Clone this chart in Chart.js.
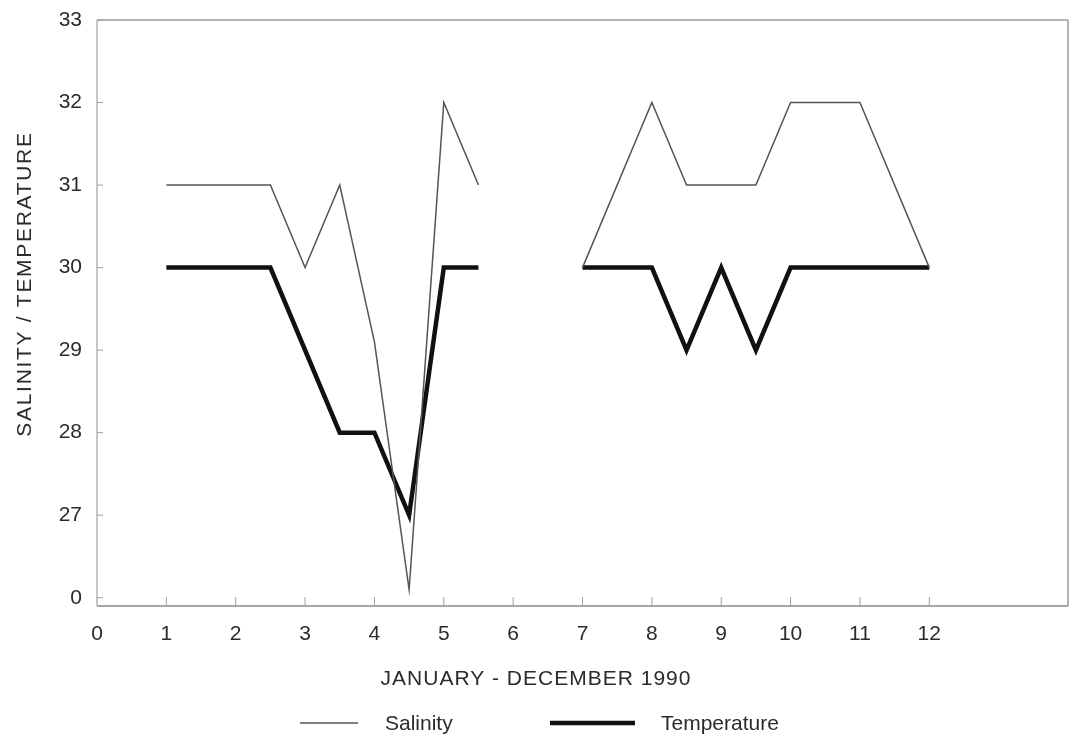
<!DOCTYPE html>
<html>
<head>
<meta charset="utf-8">
<script src="https://cdn.jsdelivr.net/npm/chart.js@4.4.1/dist/chart.umd.min.js"></script>
<style>
  body { margin: 0; background: #fff; }
  canvas { display: block; }
</style>
</head>
<body>
<canvas id="GraficoSalinidad" width="1071" height="743"></canvas>
<script>
// datos (meses 1..12, null = sin datos)
var salinityMonths = [1, 2.5, 3, 3.5, 4, 4.5, 5, 5.5, 6, 7, 8, 8.5, 9.5, 10, 11, 12];
var salinityValues = [31, 31, 30, 31, 29.1, 26.1, 32, 31, null, 30, 32, 31, 31, 32, 32, 30];
var temperatureMonths = [1, 2.5, 3.5, 4, 4.5, 5, 5.5, 6, 7, 8, 8.5, 9, 9.5, 10, 12];
var temperatureValues = [30, 30, 28, 28, 27, 30, 30, null, 30, 30, 29, 30, 29, 30, 30];
var xTickValues = [0, 1, 2, 3, 4, 5, 6, 7, 8, 9, 10, 11, 12];
var yTickValues = [26, 27, 28, 29, 30, 31, 32, 33];
var yTickLabels = ['0', '27', '28', '29', '30', '31', '32', '33'];

var FONT = '"Liberation Sans", Arial, Helvetica, sans-serif';
var TEXT = '#2b2b2b';

function puntos(xs, ys) {
  return xs.map(function (x, i) { return { x: x, y: ys[i] }; });
}

var decoracion = {
  id: 'decoracion',
  afterDraw: function (chart) {
    var ctx = chart.ctx;
    var a = chart.chartArea;
    var sx = chart.scales.x, sy = chart.scales.y;
    ctx.save();
    // marco
    ctx.lineWidth = 1.5;
    ctx.strokeStyle = '#9a9a9a';
    ctx.beginPath();
    ctx.moveTo(a.left, a.top); ctx.lineTo(a.right, a.top);
    ctx.moveTo(a.right, a.top); ctx.lineTo(a.right, a.bottom);
    ctx.stroke();
    ctx.strokeStyle = '#8a8a8a';
    ctx.beginPath();
    ctx.moveTo(a.left, a.bottom); ctx.lineTo(a.right, a.bottom);
    ctx.stroke();
    ctx.strokeStyle = '#b5b5b5';
    ctx.beginPath();
    ctx.moveTo(a.left, a.top); ctx.lineTo(a.left, a.bottom);
    ctx.stroke();
    // marcas interiores
    ctx.lineWidth = 1;
    ctx.strokeStyle = '#a0a0a0';
    ctx.beginPath();
    sx.ticks.forEach(function (t) {
      if (t.value === 0) return;
      var px = sx.getPixelForValue(t.value);
      ctx.moveTo(px, a.bottom); ctx.lineTo(px, a.bottom - 9);
    });
    sy.ticks.forEach(function (t) {
      var py = sy.getPixelForValue(t.value);
      ctx.moveTo(a.left, py); ctx.lineTo(a.left + 6, py);
    });
    ctx.stroke();

    // titulos
    ctx.fillStyle = TEXT;
    ctx.font = '21px ' + FONT;
    ctx.textAlign = 'center';
    ctx.textBaseline = 'middle';
    ctx.letterSpacing = '1px';
    ctx.fillText('JANUARY - DECEMBER 1990', 536, 679);
    ctx.save();
    ctx.translate(25, 284);
    ctx.rotate(-Math.PI / 2);
    ctx.letterSpacing = '1.7px';
    ctx.fillText('SALINITY / TEMPERATURE', 0, 0);
    ctx.restore();
    ctx.letterSpacing = '0px';

    // leyenda
    ctx.lineCap = 'butt';
    ctx.strokeStyle = '#555';
    ctx.lineWidth = 1.5;
    ctx.beginPath(); ctx.moveTo(300, 723); ctx.lineTo(358, 723); ctx.stroke();
    ctx.strokeStyle = '#111';
    ctx.lineWidth = 4.5;
    ctx.beginPath(); ctx.moveTo(550, 723); ctx.lineTo(635, 723); ctx.stroke();
    ctx.textAlign = 'left';
    ctx.fillText('Salinity', 385, 724);
    ctx.fillText('Temperature', 661, 724);
    ctx.restore();
  }
};

var ctx1 = document.getElementById('GraficoSalinidad').getContext('2d');
var data1 = {
  datasets: [{
    label: 'Salinity',
    data: puntos(salinityMonths, salinityValues),
    borderColor: '#555',
    borderWidth: 1.5,
    pointRadius: 0,
    tension: 0,
    spanGaps: false
  }, {
    label: 'Temperature',
    data: puntos(temperatureMonths, temperatureValues),
    borderColor: '#111',
    borderWidth: 4.5,
    borderJoinStyle: 'miter',
    pointRadius: 0,
    tension: 0,
    spanGaps: false
  }]
};
var options1 = {
  responsive: false,
  animation: false,
  layout: { padding: { top: 20, right: 3, left: 0, bottom: 0 } },
  plugins: {
    legend: { display: false },
    tooltip: { enabled: false }
  },
  scales: {
    x: {
      type: 'linear',
      min: 0,
      max: 14,
      afterBuildTicks: function (scale) {
        scale.ticks = xTickValues.map(function (v) { return { value: v }; });
      },
      afterFit: function (scale) { scale.height = 137; },
      grid: { display: false },
      border: { display: false },
      ticks: {
        padding: 8,
        color: TEXT,
        font: { size: 21, family: FONT },
        maxRotation: 0
      }
    },
    y: {
      min: 25.9,
      max: 33,
      afterBuildTicks: function (scale) {
        scale.ticks = yTickValues.map(function (v) { return { value: v }; });
      },
      afterFit: function (scale) { scale.width = 97; },
      grid: { display: false },
      border: { display: false },
      ticks: {
        padding: 7,
        color: TEXT,
        font: { size: 21, family: FONT },
        callback: function (value) {
          var i = yTickValues.indexOf(value);
          return i >= 0 ? yTickLabels[i] : '';
        }
      }
    }
  }
};
var GraficoSalinidad = new Chart(ctx1, {
  type: 'line',
  data: data1,
  options: options1,
  plugins: [decoracion]
});
</script>
</body>
</html>
